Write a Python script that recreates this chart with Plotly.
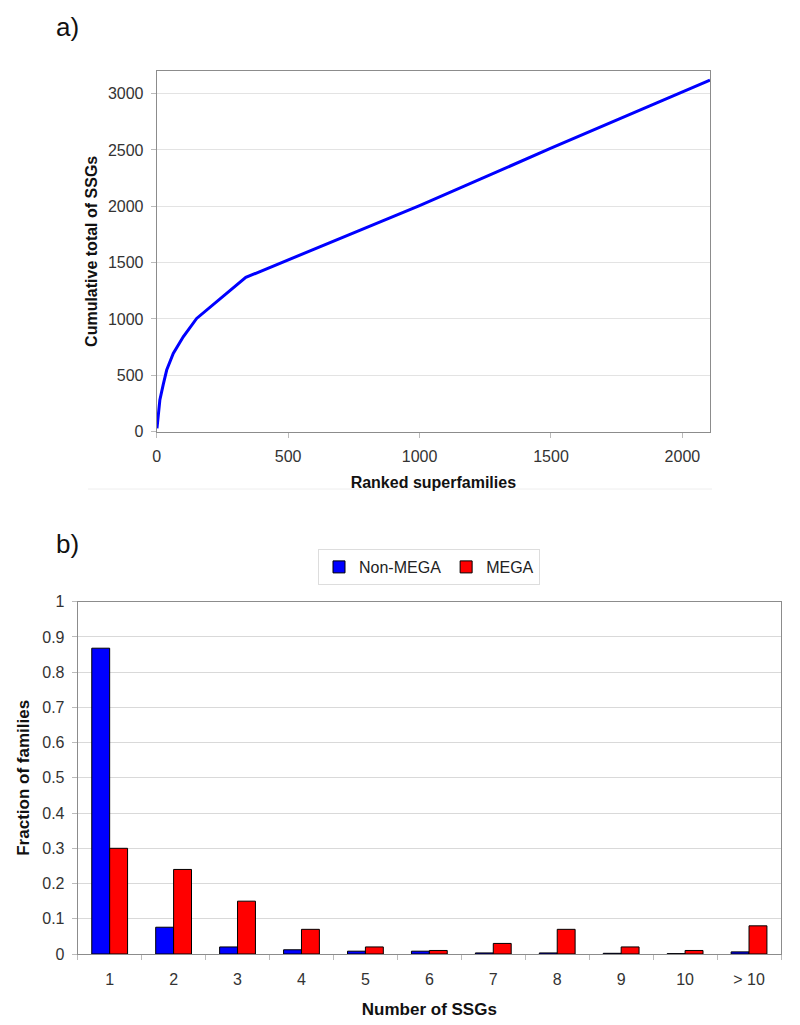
import plotly.graph_objects as go

# panel a) cumulative total of SSGs vs ranked superfamilies (read off the picture)
ranked = [1, 5, 12, 25, 38, 63, 101, 152, 190, 292, 339, 1000, 1500, 2105]
cumulative = [30, 150, 281, 420, 547, 695, 842, 1005, 1079, 1271, 1369, 2005, 2515, 3118]

# panel b) fraction of families by number of SSGs
ssg_labels = ["1", "2", "3", "4", "5", "6", "7", "8", "9", "10", "> 10"]
non_mega = [0.868, 0.076, 0.02, 0.012, 0.008, 0.008, 0.003, 0.003, 0.002, 0.001, 0.006]
mega = [0.30, 0.24, 0.15, 0.07, 0.02, 0.01, 0.03, 0.07, 0.02, 0.01, 0.08]

W, H = 800, 1025
OFF = 8  # page body margin
FONT = "Liberation Sans, Arial, sans-serif"


def px_x(p):
    return (p - OFF) / W


def px_y(p):
    return 1 - (p - OFF) / H


fig = go.Figure()

fig.add_trace(
    go.Scatter(
        x=ranked,
        y=cumulative,
        mode="lines",
        line=dict(color="#0000ff", width=3),
        showlegend=False,
        xaxis="x",
        yaxis="y",
    )
)

fig.add_trace(
    go.Bar(
        x=ssg_labels,
        y=non_mega,
        name="Non-MEGA",
        marker=dict(color="#0000ff", line=dict(color="black", width=1)),
        xaxis="x2",
        yaxis="y2",
    )
)
fig.add_trace(
    go.Bar(
        x=ssg_labels,
        y=mega,
        name="MEGA",
        marker=dict(color="#ff0000", line=dict(color="black", width=1)),
        xaxis="x2",
        yaxis="y2",
    )
)

axis_common = dict(
    showline=True,
    linecolor="#8c8c8c",
    linewidth=1,
    mirror=True,
    zeroline=False,
    ticks="outside",
    ticklen=5,
    tickcolor="#bbbbbb",
    automargin=False,
)
title_font = dict(family=FONT, size=16, color="#111111")
tick_font = dict(family=FONT, size=16, color="#333333")

fig.update_layout(
    width=W,
    height=H,
    margin=dict(l=0, r=0, t=0, b=0),
    paper_bgcolor="white",
    plot_bgcolor="white",
    font=dict(family=FONT),
    barmode="group",
    bargap=0.44,
    bargroupgap=0,
    xaxis=dict(
        axis_common,
        domain=[px_x(156.7), px_x(710)],
        range=[0, 2105],
        tickvals=[0, 500, 1000, 1500, 2000],
        showgrid=False,
        anchor="y",
        tickfont=tick_font,
        ticklabelstandoff=5,
        title=dict(text="<b>Ranked superfamilies</b>", font=title_font, standoff=12),
    ),
    yaxis=dict(
        axis_common,
        domain=[px_y(431.7), px_y(71)],
        range=[0, 3200],
        tickvals=[0, 500, 1000, 1500, 2000, 2500, 3000],
        showgrid=True,
        gridcolor="#e3e3e3",
        anchor="x",
        tickfont=tick_font,
        ticklabelstandoff=4,
        title=dict(text="<b>Cumulative total of SSGs</b>", font=title_font, standoff=6),
    ),
    xaxis2=dict(
        axis_common,
        domain=[px_x(77.7), px_x(781)],
        type="category",
        tickson="boundaries",
        showgrid=False,
        anchor="y2",
        tickfont=tick_font,
        ticklabelstandoff=11,
        title=dict(text="<b>Number of SSGs</b>", font=dict(title_font, size=17), standoff=15),
    ),
    yaxis2=dict(
        axis_common,
        domain=[px_y(954), px_y(601.7)],
        range=[0, 1],
        dtick=0.1,
        showgrid=True,
        gridcolor="#d9d9d9",
        anchor="x2",
        tickfont=tick_font,
        ticklabelstandoff=4,
        title=dict(text="<b>Fraction of families</b>", font=dict(title_font, size=17), standoff=8),
    ),
    legend=dict(
        orientation="h",
        x=px_x(429),
        xanchor="center",
        y=px_y(549),
        yanchor="top",
        bordercolor="#dddddd",
        borderwidth=1,
        font=dict(family=FONT, size=16, color="#222222"),
        itemwidth=30,
        tracegroupgap=0,
    ),
)

fig.add_annotation(
    text="a)", x=px_x(54), y=px_y(27), xref="paper", yref="paper",
    xanchor="left", yanchor="middle", showarrow=False,
    font=dict(family=FONT, size=26, color="#111111"),
)
fig.add_annotation(
    text="b)", x=px_x(54), y=px_y(544), xref="paper", yref="paper",
    xanchor="left", yanchor="middle", showarrow=False,
    font=dict(family=FONT, size=26, color="#111111"),
)

# faint frame line under panel a)
fig.add_shape(
    type="line", xref="paper", yref="paper",
    x0=px_x(88), x1=px_x(712), y0=px_y(489), y1=px_y(489),
    line=dict(color="#eeeeee", width=1),
)

fig.write_html("out.html")
